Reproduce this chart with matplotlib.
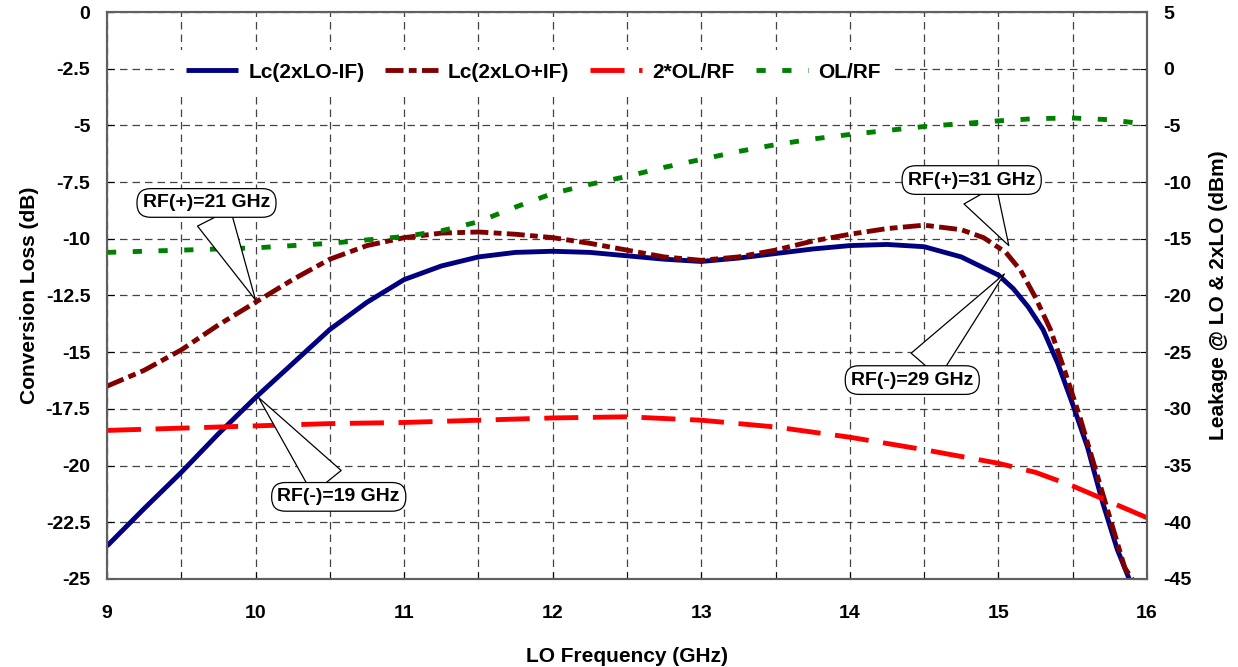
import numpy as np
import matplotlib
matplotlib.use("Agg")
import matplotlib.pyplot as plt
from matplotlib.ticker import MultipleLocator

plt.rcParams['font.family'] = ['Liberation Sans', 'DejaVu Sans']
plt.rcParams['font.weight'] = 'bold'
plt.rcParams['axes.unicode_minus'] = False

# Lc(2xLO-IF), conversion loss (dB)
f_minus = [9.0, 9.25, 9.5, 9.75, 10.0, 10.25, 10.5, 10.75, 11.0, 11.25, 11.5, 11.75,
           12.0, 12.25, 12.5, 12.75, 13.0, 13.25, 13.5, 13.75, 14.0, 14.25, 14.5,
           14.75, 15.0, 15.1, 15.2, 15.3, 15.4, 15.5, 15.6, 15.7, 15.8, 15.88]
lc_minus = [-23.55, -21.9, -20.3, -18.6, -17.0, -15.5, -14.0, -12.8, -11.8, -11.2, -10.8, -10.6,
            -10.55, -10.6, -10.75, -10.9, -11.0, -10.85, -10.65, -10.45, -10.3, -10.25, -10.35,
            -10.8, -11.6, -12.2, -13.0, -14.0, -15.5, -17.3, -19.2, -21.6, -23.7, -25.0]

# Lc(2xLO+IF), conversion loss (dB)
f_plus = [9.0, 9.25, 9.5, 9.75, 10.0, 10.25, 10.5, 10.75, 11.0, 11.25, 11.5, 11.75,
          12.0, 12.25, 12.5, 12.75, 13.0, 13.25, 13.5, 13.75, 14.0, 14.25, 14.5,
          14.75, 14.9, 15.05, 15.15, 15.25, 15.35, 15.45, 15.55, 15.65, 15.75, 15.85, 15.9]
lc_plus = [-16.5, -15.8, -14.9, -13.8, -12.8, -11.8, -10.9, -10.3, -9.95, -9.75, -9.7, -9.8,
           -9.95, -10.2, -10.5, -10.8, -10.95, -10.8, -10.5, -10.1, -9.8, -9.55, -9.4,
           -9.6, -9.95, -10.6, -11.4, -12.6, -14.0, -15.9, -17.9, -20.1, -22.3, -24.5, -25.0]

# OL/RF leakage (dBm)
f_ol = [9.0, 9.5, 10.0, 10.5, 11.0, 11.25, 11.5, 11.75, 12.0, 12.25, 12.5, 12.75, 13.0,
        13.25, 13.5, 13.75, 14.0, 14.5, 15.0, 15.25, 15.5, 15.75, 16.0]
ol_rf = [-16.2, -16.0, -15.8, -15.4, -14.8, -14.3, -13.5, -12.2, -11.0, -10.2, -9.5, -8.7, -8.0,
         -7.3, -6.7, -6.2, -5.8, -5.1, -4.6, -4.4, -4.35, -4.5, -4.9]

# 2*OL/RF leakage (dBm)
f_2ol = [9.0, 9.5, 10.0, 10.5, 11.0, 11.5, 12.0, 12.5, 13.0, 13.5, 14.0, 14.5, 15.0,
         15.25, 15.5, 15.75, 16.0]
ol2_rf = [-31.9, -31.7, -31.5, -31.3, -31.2, -31.0, -30.8, -30.7, -31.0, -31.6, -32.5, -33.6, -34.8,
          -35.6, -36.8, -38.2, -39.6]

# callouts: text, text position, target point (left axis units)
notes = [
    ("RF(+)=21 GHz", (9.67, -8.42), (10.0, -12.7)),
    ("RF(-)=19 GHz", (10.56, -21.38), (10.02, -17.0)),
    ("RF(+)=31 GHz", (14.82, -7.41), (15.07, -10.3)),
    ("RF(-)=29 GHz", (14.42, -16.23), (15.04, -11.55)),
]

fig = plt.figure(figsize=(12.38, 6.67), dpi=100)
ax = fig.add_axes([0.0864, 0.132, 0.8401, 0.850])
ax2 = ax.twinx()

l1, = ax.plot(f_minus, lc_minus, color='#000080', lw=3.5, solid_capstyle='butt',
              label='Lc(2xLO-IF)')
l2, = ax.plot(f_plus, lc_plus, color='#800000', lw=3.5, dashes=(3.7, 1.1, 1.6, 1.1),
              label='Lc(2xLO+IF)')
l3, = ax2.plot(f_2ol, ol2_rf, color='#ff0000', lw=3.5, dashes=(7, 3),
               label='2*OL/RF')
l4, = ax2.plot(f_ol, ol_rf, color='#008000', lw=3.5, dashes=(1.9, 3.4),
               label='OL/RF')

ax.set_xlim(9, 16)
ax.set_ylim(-25, 0)
ax2.set_ylim(-45, 5)
ax.xaxis.set_major_locator(MultipleLocator(1))
ax.xaxis.set_minor_locator(MultipleLocator(0.5))
ax.yaxis.set_major_locator(MultipleLocator(2.5))
ax2.yaxis.set_major_locator(MultipleLocator(5))
ax.yaxis.set_major_formatter(plt.FuncFormatter(lambda v, p: f"{v:g}"))

ax.grid(True, which='both', color='#222222', ls=(0, (6, 4)), lw=0.9, alpha=0.85)
ax.tick_params(axis='x', which='both', direction='in', labelsize=14, length=5, pad=19)
ax.tick_params(axis='y', direction='in', labelsize=14, length=5, pad=12)
ax2.tick_params(direction='in', labelsize=14, length=5, pad=12)
for a in (ax, ax2):
    for s in a.spines.values():
        s.set_color('#606060')
        s.set_linewidth(1.5)

ax.set_xlabel('LO Frequency (GHz)', fontsize=15, fontweight='bold', labelpad=18)
ax.set_ylabel('Conversion Loss (dB)', fontsize=15, fontweight='bold', labelpad=5)
ax2.set_ylabel('Leakage @ LO & 2xLO (dBm)', fontsize=15, fontweight='bold', labelpad=12)

leg = ax2.legend(handles=[l1, l2, l3, l4], loc='center', bbox_to_anchor=(0.41, 0.894),
                 ncol=4, frameon=True, fontsize=15, handlelength=2.5, columnspacing=1.0,
                 handletextpad=0.5, borderaxespad=0, fancybox=False, framealpha=1,
                 borderpad=0.6)
leg.get_frame().set_facecolor('white')
leg.get_frame().set_edgecolor('none')

for txt, pos, pt in notes:
    ax2.annotate(txt, xy=pt, xytext=pos, xycoords=ax.transData, textcoords=ax.transData,
                 ha='center', va='center', fontsize=14, fontweight='bold',
                 bbox=dict(boxstyle='round,pad=0.3,rounding_size=0.7', fc='white', ec='black', lw=0.9),
                 arrowprops=dict(arrowstyle='wedge,tail_width=1.9,shrink_factor=0.5',
                                 fc='white', ec='black', lw=0.9, shrinkA=0, shrinkB=0))

fig.savefig('out.png', dpi=100)
